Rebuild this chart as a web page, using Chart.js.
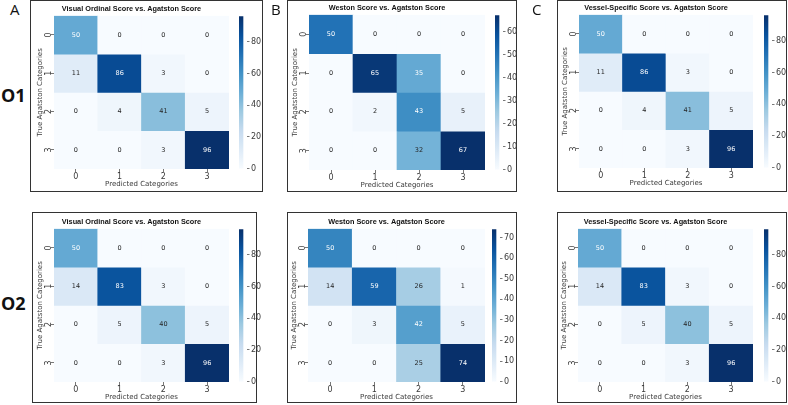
<!DOCTYPE html>
<html>
<head>
<meta charset="utf-8">
<script src="https://cdn.jsdelivr.net/npm/chart.js@4.4.1/dist/chart.umd.min.js"></script>
<style>
  html, body { margin: 0; padding: 0; background: #fff; }
  #root { position: relative; width: 788px; height: 405px; overflow: hidden; background: #fff; }
  .box { position: absolute; border: 1.5px solid #333; box-sizing: border-box; }
  .lbl { position: absolute; font-family: 'Open Sans', 'Liberation Sans', sans-serif; color: #111; line-height: 1; white-space: nowrap; }
  canvas { position: absolute; }
</style>
</head>
<body>
<div id="root"></div>
<script>
// ---------------- DATA ----------------
const categories = ['0', '1', '2', '3'];
const visualO1 = [[50, 0, 0, 0], [11, 86, 3, 0], [0, 4, 41, 5], [0, 0, 3, 96]];
const westonO1 = [[50, 0, 0, 0], [0, 65, 35, 0], [0, 2, 43, 5], [0, 0, 32, 67]];
const vesselO1 = [[50, 0, 0, 0], [11, 86, 3, 0], [0, 4, 41, 5], [0, 0, 3, 96]];
const visualO2 = [[50, 0, 0, 0], [14, 83, 3, 0], [0, 5, 40, 5], [0, 0, 3, 96]];
const westonO2 = [[50, 0, 0, 0], [14, 59, 26, 1], [0, 3, 42, 5], [0, 0, 25, 74]];
const vesselO2 = [[50, 0, 0, 0], [14, 83, 3, 0], [0, 5, 40, 5], [0, 0, 3, 96]];
const cbTicks20 = [0, 20, 40, 60, 80];
const cbTicksWestonO1 = [0, 10, 20, 30, 40, 50, 60];
const cbTicksWestonO2 = [0, 10, 20, 30, 40, 50, 60, 70];
const titleVisual = 'Visual Ordinal Score vs. Agatston Score';
const titleWeston = 'Weston Score vs. Agatston Score';
const titleVessel = 'Vessel-Specific Score vs. Agatston Score';
const xAxisTitle = 'Predicted Categories';
const yAxisTitle = 'True Agatston Categories';
const columnLetters = ['A', 'B', 'C'];
const rowLabels = ['O1', 'O2'];

// ---------------- LAYOUT ----------------
const panels = [
  { m: visualO1, title: titleVisual, cb: cbTicks20, box: [30, 0, 263, 192], hm: [54, 16, 229, 169], cbx: [239, 247] },
  { m: westonO1, title: titleWeston, cb: cbTicksWestonO1, box: [287, 0, 517, 192], hm: [309, 15, 485, 170], cbx: [495, 503] },
  { m: vesselO1, title: titleVessel, cb: cbTicks20, box: [557, 0, 787, 192], hm: [579, 15, 753, 168], cbx: [764, 772] },
  { m: visualO2, title: titleVisual, cb: cbTicks20, box: [32, 212, 257, 403], hm: [54, 229, 229, 382], cbx: [239, 247] },
  { m: westonO2, title: titleWeston, cb: cbTicksWestonO2, box: [287, 212, 517, 403], hm: [308, 229, 485, 382], cbx: [492, 500] },
  { m: vesselO2, title: titleVessel, cb: cbTicks20, box: [557, 212, 787, 403], hm: [578, 229, 753, 382], cbx: [764, 772] }
];
const letterPos = [[10, 2], [271, 2], [532, 2]];
const rowLabelPos = [[1, 86], [1, 294]];

// ---------------- COLORMAP (matplotlib Blues) ----------------
const BLUES = ['#f7fbff', '#deebf7', '#c6dbef', '#9ecae1', '#6baed6', '#4292c6', '#2171b5', '#08519c', '#08306b'];
function hexRgb(h) { return [parseInt(h.slice(1, 3), 16), parseInt(h.slice(3, 5), 16), parseInt(h.slice(5, 7), 16)]; }
function bluesRgb(t) {
  t = Math.max(0, Math.min(1, t));
  const p = t * (BLUES.length - 1);
  const i = Math.min(Math.floor(p), BLUES.length - 2);
  const f = p - i;
  const a = hexRgb(BLUES[i]), b = hexRgb(BLUES[i + 1]);
  return a.map((v, k) => Math.round(v + (b[k] - v) * f));
}
function rgbStr(c) { return 'rgb(' + c.join(',') + ')'; }
function luminance(c) {
  const l = c.map(v => { v /= 255; return v <= 0.03928 ? v / 12.92 : Math.pow((v + 0.055) / 1.055, 2.4); });
  return 0.2126 * l[0] + 0.7152 * l[1] + 0.0722 * l[2];
}

const root = document.getElementById('root');
function addCanvas(left, top, w, h) {
  const c = document.createElement('canvas');
  c.width = w; c.height = h;
  c.style.left = left + 'px'; c.style.top = top + 'px';
  c.style.width = w + 'px'; c.style.height = h + 'px';
  root.appendChild(c);
  return c;
}

const TICK_FONT = { family: 'DejaVu Sans', size: 8 };
const TICK_COLOR = '#3a3a3a';
const Y_AXIS_W = 20, X_AXIS_H = 22, TITLE_H = 14;

const annotatePlugin = {
  id: 'annotate',
  afterDatasetsDraw(chart) {
    const opts = chart.config.options.plugins.annotate;
    const m = opts.matrix, vmax = opts.vmax;
    const ctx = chart.ctx;
    const xs = chart.scales.x, ys = chart.scales.y;
    ctx.save();
    ctx.font = '6.5px "DejaVu Sans"';
    ctx.textAlign = 'center';
    ctx.textBaseline = 'middle';
    m.forEach((row, r) => row.forEach((v, c) => {
      const col = bluesRgb(v / vmax);
      ctx.fillStyle = luminance(col) > 0.408 ? '#262626' : '#ffffff';
      ctx.fillText(String(v), xs.getPixelForValue(c), ys.getPixelForValue(r + 0.5));
    }));
    // rotated y tick labels (matplotlib style, rotation 90)
    ctx.font = '8px "DejaVu Sans"';
    ctx.fillStyle = TICK_COLOR;
    categories.forEach((lab, i) => {
      const y = ys.getPixelForValue(i + 0.5);
      const x = ys.right - 5.5;
      ctx.save();
      ctx.translate(x, y);
      ctx.rotate(-Math.PI / 2);
      ctx.fillText(lab, 0, 0);
      ctx.restore();
    });
    ctx.restore();
  }
};

function makeHeatmap(p) {
  const [L, T, R, B] = p.hm;
  const vmax = Math.max(...p.m.flat());
  const cv = addCanvas(L - Y_AXIS_W, T - TITLE_H, (R - L) + Y_AXIS_W, (B - T) + TITLE_H + X_AXIS_H);
  const datasets = p.m.map((row, r) => ({
    data: row.map(() => [r, r + 1]),
    backgroundColor: row.map(v => rgbStr(bluesRgb(v / vmax))),
    borderWidth: 0,
    grouped: false,
    barPercentage: 1,
    categoryPercentage: 1
  }));
  new Chart(cv, {
    type: 'bar',
    data: { labels: categories, datasets },
    options: {
      responsive: false, animation: false, devicePixelRatio: 1,
      layout: { padding: 0 },
      plugins: {
        legend: { display: false }, tooltip: { enabled: false },
        title: { display: true, text: p.title, color: '#111', font: { family: 'Liberation Sans', weight: 'bold', size: 7.3, lineHeight: 1 }, padding: { top: 3.5, bottom: 3 } },
        annotate: { matrix: p.m, vmax }
      },
      scales: {
        x: {
          type: 'category', offset: true,
          grid: { display: true, offset: false, drawOnChartArea: false, drawTicks: true, tickLength: 3, color: '#555', lineWidth: 0.8 },
          border: { display: false },
          ticks: { font: TICK_FONT, color: TICK_COLOR, padding: 0, maxRotation: 0, minRotation: 0 },
          title: { display: true, text: xAxisTitle, font: { family: 'DejaVu Sans', size: 7, lineHeight: 1 }, color: TICK_COLOR, padding: { top: 0, bottom: 3.5 } },
          afterFit: s => { s.height = X_AXIS_H; }
        },
        y: {
          type: 'linear', min: 0, max: 4, reverse: true,
          afterBuildTicks: s => { s.ticks = categories.map((_, i) => ({ value: i + 0.5 })); },
          grid: { display: true, drawOnChartArea: false, drawTicks: true, tickLength: 3, color: '#555', lineWidth: 0.8 },
          border: { display: false },
          ticks: { display: false, autoSkip: false },
          title: { display: true, text: yAxisTitle, font: { family: 'DejaVu Sans', size: 7, lineHeight: 1 }, color: TICK_COLOR, padding: { top: 3, bottom: 0 } },
          afterFit: s => { s.width = Y_AXIS_W; }
        }
      }
    },
    plugins: [annotatePlugin]
  });
}

function makeColorbar(p) {
  const [L, T, R, B] = p.hm;
  const [cL, cR] = p.cbx;
  const vmax = Math.max(...p.m.flat());
  const PAD = 6, AX_W = 22;
  const cv = addCanvas(cL, T - PAD, (cR - cL) + AX_W, (B - T) + 2 * PAD);
  new Chart(cv, {
    type: 'bar',
    data: {
      labels: ['scale'],
      datasets: [{
        data: [[0, vmax]],
        borderWidth: 0, barPercentage: 1, categoryPercentage: 1,
        backgroundColor: ctx => {
          const ca = ctx.chart.chartArea;
          if (!ca) return BLUES[4];
          const g = ctx.chart.ctx.createLinearGradient(0, ca.bottom, 0, ca.top);
          for (let i = 0; i <= 40; i++) g.addColorStop(i / 40, rgbStr(bluesRgb(i / 40)));
          return g;
        }
      }]
    },
    options: {
      responsive: false, animation: false, devicePixelRatio: 1,
      layout: { padding: { top: PAD, bottom: PAD, left: 0, right: 0 } },
      plugins: { legend: { display: false }, tooltip: { enabled: false } },
      scales: {
        x: { display: false, offset: false },
        y: {
          position: 'right', min: 0, max: vmax,
          afterBuildTicks: s => { s.ticks = p.cb.map(v => ({ value: v })); },
          grid: { display: true, drawOnChartArea: false, drawTicks: true, tickLength: 2.5, color: '#555', lineWidth: 0.8 },
          border: { display: false },
          ticks: { font: TICK_FONT, color: TICK_COLOR, padding: 1.5, autoSkip: false },
          afterFit: s => { s.width = AX_W; }
        }
      }
    }
  });
}

panels.forEach(p => {
  const [x0, y0, x1, y1] = p.box;
  const b = document.createElement('div');
  b.className = 'box';
  b.style.left = x0 + 'px'; b.style.top = y0 + 'px';
  b.style.width = (x1 - x0) + 'px'; b.style.height = (y1 - y0) + 'px';
  root.appendChild(b);
  makeHeatmap(p);
  makeColorbar(p);
});

columnLetters.forEach((t, i) => {
  const d = document.createElement('div');
  d.className = 'lbl';
  d.textContent = t;
  d.style.left = letterPos[i][0] + 'px'; d.style.top = letterPos[i][1] + 'px';
  d.style.fontSize = '15px';
  root.appendChild(d);
});
rowLabels.forEach((t, i) => {
  const d = document.createElement('div');
  d.className = 'lbl';
  d.textContent = t;
  d.style.left = rowLabelPos[i][0] + 'px'; d.style.top = rowLabelPos[i][1] + 'px';
  d.style.fontSize = '18px'; d.style.fontWeight = 'bold';
  root.appendChild(d);
});
</script>
</body>
</html>
